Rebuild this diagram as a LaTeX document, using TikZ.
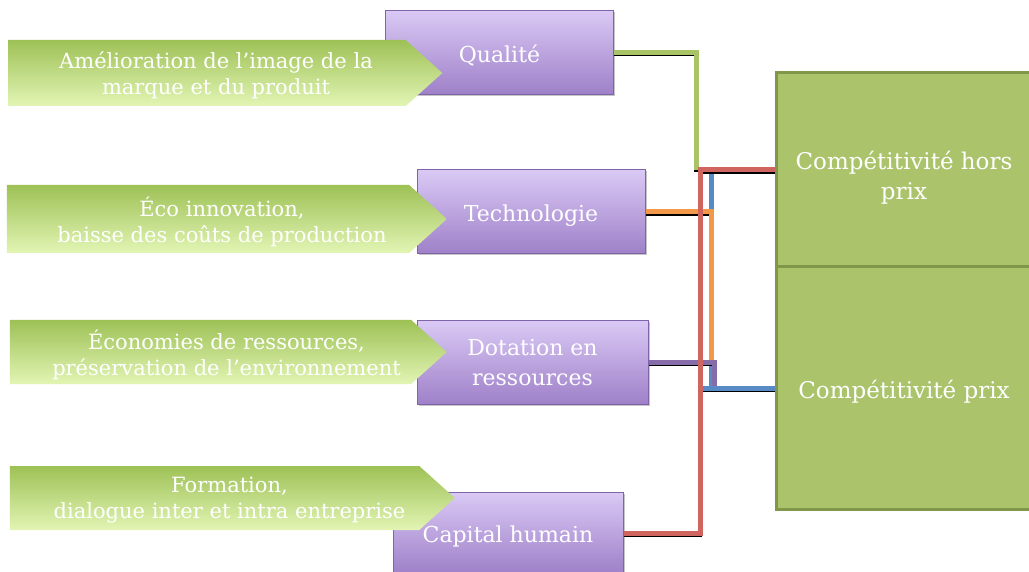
\documentclass[tikz,border=0pt]{standalone}
\usepackage{fontspec}
\setmainfont{DejaVu Serif}
\usetikzlibrary{shapes.symbols,shadows}

\definecolor{levierTop}{RGB}{218,201,245}
\definecolor{levierBot}{RGB}{158,128,200}
\definecolor{levierEdge}{RGB}{128,100,168}
\definecolor{causeTop}{RGB}{158,193,86}
\definecolor{causeBot}{RGB}{226,245,180}
\definecolor{effetFill}{RGB}{171,196,108}
\definecolor{effetEdge}{RGB}{128,150,72}
\definecolor{lienVert}{RGB}{169,196,103}
\definecolor{lienRouge}{RGB}{208,100,94}
\definecolor{lienBleu}{RGB}{88,138,198}
\definecolor{lienOrange}{RGB}{243,152,72}
\definecolor{lienViolet}{RGB}{134,108,168}

\begin{document}
\begin{tikzpicture}[
  x=1pt, y=-1pt,
  font=\fontsize{21}{26}\selectfont,
  levier/.style={draw=levierEdge, line width=1pt, top color=levierTop, bottom color=levierBot,
                 text=white, align=center, minimum width=228, minimum height=84, inner sep=0pt,
                 drop shadow={shadow xshift=1.5pt, shadow yshift=-1.5pt, opacity=.45},
                 font=\fontsize{22}{30}\selectfont,
                 execute at begin node={\rule{0pt}{1.08em}}},
  cause/.style={shape=signal, signal to=east, signal pointer angle=84, top color=causeTop,
                bottom color=causeBot, inner sep=0pt, minimum height=66},
  texte/.style={text=white, align=center, xshift=#1, yshift=-2.5pt},
  effet/.style={draw=effetEdge, line width=3pt, fill=effetFill, text=white, align=center,
                minimum width=256, inner sep=0pt, font=\fontsize{23}{30}\selectfont,
                execute at begin node={\rule{0pt}{1.16em}}},
  lien/.style={line width=5pt,
               preaction={draw=black, line width=3.5pt, transform canvas={yshift=-2.2pt}}},
]
\useasboundingbox (0,0) rectangle (1029,572);
\fill[white] (0,0) rectangle (1029,572);

% effets
\node[effet, minimum height=194, text height=64pt] (hors) at (904,170) {Compétitivité hors\\prix};
\node[effet, minimum height=242] (prix) at (904,388) {Compétitivité prix};

% leviers
\node[levier] (qual) at (499.5,52.5) {Qualité};
\node[levier] (tech) at (531,212) {Technologie};
\node[levier, minimum width=231] (dot) at (532.5,362.5) {Dotation en\\ressources};
\node[levier, minimum width=230, minimum height=82] (cap) at (508,533) {Capital humain};

% causes
\node[cause, minimum width=434,
      label={[texte=9pt]center:Amélioration de l’image de la\\marque et du produit}] (img) at (207,73) {};
\node[cause, minimum width=440, minimum height=68,
      label={[texte=14pt]center:Éco innovation,\\baisse des coûts de production}] (eco) at (208,219) {};
\node[cause, minimum width=437, minimum height=64,
      label={[texte=16pt]center:Économies de ressources,\\préservation de l’environnement}] (res) at (210.5,352) {};
\node[cause, minimum width=445, minimum height=64,
      label={[texte=15pt]center:Formation,\\dialogue inter et intra entreprise}] (form) at (214.5,498) {};

% liens
\coordinate (busV) at (696,0);
\coordinate (busR) at (700.5,0);
\coordinate (busB) at (711.5,0);
\coordinate (busP) at (714,0);

\draw[lien, lienBleu] (busB |- hors.west) -- (busB |- prix.west);
\draw[lien, lienOrange] (tech.east) -| (busB |- dot.east);
\draw[lien, lienViolet] (dot.east) -| (busP |- prix.west);
\draw[lien, lienBleu] (busR |- prix.west) -- (prix.west);
\draw[lien, lienVert] (qual.east) -| (busV |- hors.west);
\draw[lien, lienRouge] (cap.east) -| (busR |- hors.west) -- (hors.west);
\end{tikzpicture}
\end{document}
